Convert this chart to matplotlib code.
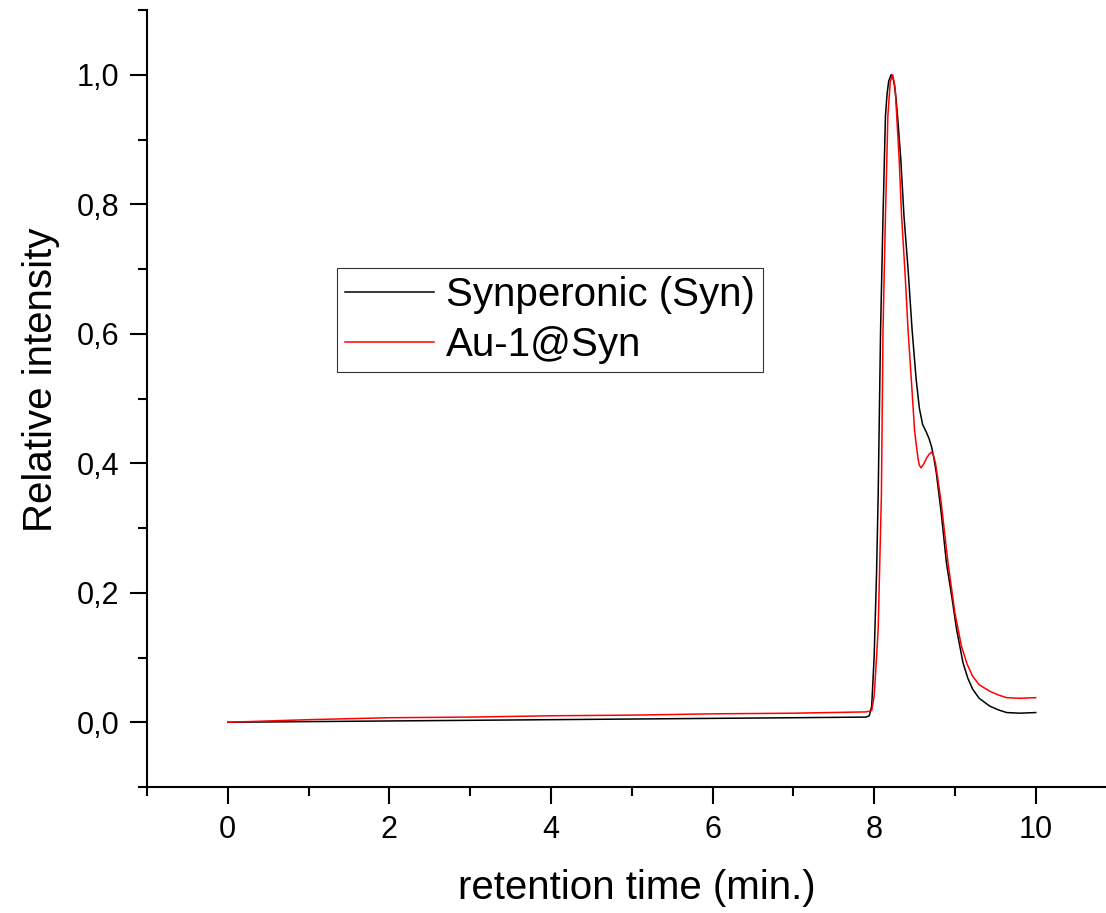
import numpy as np
import matplotlib
matplotlib.use("Agg")
import matplotlib.pyplot as plt
from matplotlib.ticker import MultipleLocator, FuncFormatter

plt.rcParams['font.family'] = ['Liberation Sans', 'DejaVu Sans']

# retention time (min.) and relative intensity
syn_time = [0, 1, 2, 3, 4, 5, 6, 7, 7.9, 7.94, 7.97, 8.0, 8.03, 8.05, 8.08,
            8.11, 8.14, 8.16, 8.18, 8.21, 8.23, 8.25, 8.27, 8.29, 8.33, 8.37,
            8.42, 8.47, 8.52, 8.56, 8.60, 8.65, 8.68, 8.71, 8.74, 8.77, 8.83,
            8.895, 8.96, 9.02, 9.10, 9.16, 9.22, 9.30, 9.43, 9.54, 9.64, 9.8, 10.0]
syn_int = [0, 0.001, 0.002, 0.003, 0.004, 0.005, 0.006, 0.007, 0.008, 0.010,
           0.025, 0.10, 0.23, 0.350, 0.606, 0.781, 0.936, 0.970, 0.990, 1.000,
           0.997, 0.985, 0.965, 0.936, 0.870, 0.781, 0.700, 0.606, 0.530, 0.485,
           0.460, 0.447, 0.438, 0.426, 0.408, 0.385, 0.324, 0.246, 0.195, 0.144,
           0.092, 0.068, 0.051, 0.037, 0.025, 0.019, 0.015, 0.014, 0.015]

au_time = [0, 1, 2, 3, 4, 5, 6, 7, 7.9, 7.97, 8.0, 8.03, 8.05, 8.09, 8.11,
           8.14, 8.17, 8.20, 8.23, 8.26, 8.28, 8.31, 8.34, 8.38, 8.42, 8.46,
           8.50, 8.52, 8.545, 8.56, 8.58, 8.61, 8.65, 8.68, 8.71, 8.73, 8.76,
           8.79, 8.83, 8.915, 9.0, 9.08, 9.15, 9.22, 9.30, 9.43, 9.54, 9.64,
           9.8, 10.0]
au_int = [0, 0.004, 0.007, 0.008, 0.010, 0.011, 0.013, 0.014, 0.016, 0.018,
          0.040, 0.10, 0.144, 0.350, 0.606, 0.781, 0.936, 0.990, 1.000, 0.980,
          0.936, 0.870, 0.781, 0.700, 0.606, 0.530, 0.452, 0.430, 0.406, 0.397,
          0.393, 0.398, 0.408, 0.414, 0.417, 0.414, 0.400, 0.375, 0.339, 0.246,
          0.169, 0.118, 0.090, 0.071, 0.058, 0.048, 0.042, 0.038, 0.037, 0.038]

labels = ['Synperonic (Syn)', 'Au-1@Syn']

fig = plt.figure(figsize=(11.06, 9.13), dpi=100)
ax = fig.add_axes([0.1329, 0.138, 0.8671, 0.851])

ax.plot(syn_time, syn_int, color='black', lw=1.1, label=labels[0])
ax.plot(au_time, au_int, color='red', lw=1.1, label=labels[1])

ax.set_xlim(-1, 10.87)
ax.set_ylim(-0.1, 1.1)

ax.xaxis.set_major_locator(MultipleLocator(2))
ax.xaxis.set_minor_locator(MultipleLocator(1))
ax.yaxis.set_major_locator(MultipleLocator(0.2))
ax.yaxis.set_minor_locator(MultipleLocator(0.1))
ax.yaxis.set_major_formatter(FuncFormatter(lambda v, p: f"{v:.1f}".replace('.', ',')))
ax.xaxis.set_major_formatter(FuncFormatter(lambda v, p: f"{v:.0f}"))

for s in ['top', 'right']:
    ax.spines[s].set_visible(False)
for s in ['left', 'bottom']:
    ax.spines[s].set_linewidth(1.5)

ax.tick_params(which='major', direction='out', length=12, width=1.5,
               labelsize=22, pad=8)
ax.tick_params(which='minor', direction='out', length=6.5, width=1.5)

ax.set_xlabel('retention time (min.)', fontsize=29)
ax.set_ylabel('Relative intensity', fontsize=29)
ax.xaxis.set_label_coords(0.511, -0.105)
ax.yaxis.set_label_coords(-0.091, 0.524)

leg = ax.legend(loc='upper left', bbox_to_anchor=(0.198, 0.668),
                fontsize=29, frameon=True, fancybox=False, shadow=False,
                borderaxespad=0, borderpad=0.2, handlelength=2.2,
                handletextpad=0.3, labelspacing=0.3)
leg.get_frame().set_edgecolor('black')
leg.get_frame().set_linewidth(0.8)
for line in leg.get_lines():
    line.set_linewidth(1.1)

fig.savefig('out.png', dpi=100)
